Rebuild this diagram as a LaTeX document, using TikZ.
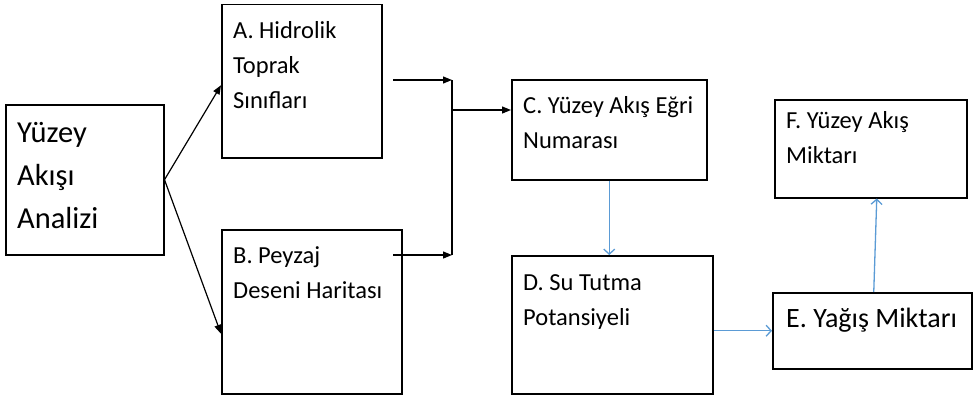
\documentclass[tikz,border=0pt]{standalone}
\usepackage{fontspec}
\setmainfont{Carlito}
\usetikzlibrary{arrows.meta,positioning,calc}
\definecolor{C_link}{RGB}{91,155,213}

\begin{document}
\begin{tikzpicture}[
    x=1pt, y=-1pt,
    blk/.style={draw, rectangle, anchor=north west, inner sep=0pt, line width=1.5pt},
    lbl/.style={anchor=north west, align=left, inner sep=0pt, xshift=12pt, yshift=-17pt,
                font=\fontsize{24.5}{35}\selectfont},
    lblbig/.style={lbl, font=\fontsize{30.5}{43}\selectfont},
    flowblk/.style={-{Triangle[length=9pt,width=7pt]}, line width=1.2pt},
    flowblue/.style={-{Straight Barb[length=5pt,width=11pt]}, draw=C_link, line width=1.3pt},
]
\useasboundingbox (0,0) rectangle (976,396);

% Boxes (coordinates in pixels of the original, y downwards)
\node[blk, minimum width=158pt, minimum height=150pt,
      label={[lblbig, yshift=-1pt]north west:{Yüzey\\Akışı\\Analizi}}] (yuzey) at (5,104) {};
\node[blk, minimum width=160pt, minimum height=153pt,
      label={[lbl]north west:{A. Hidrolik\\Toprak\\Sınıfları}}] (hidrolik) at (221,4) {};
\node[blk, minimum width=180pt, minimum height=164pt,
      label={[lbl]north west:{B. Peyzaj\\Deseni Haritası}}] (peyzaj) at (221,229) {};
\node[blk, minimum width=195pt, minimum height=100pt,
      label={[lbl]north west:{C. Yüzey Akış Eğri\\Numarası}}] (egri) at (511,79) {};
\node[blk, minimum width=201pt, minimum height=138pt,
      label={[lbl, yshift=-2pt]north west:{D. Su Tutma\\Potansiyeli}}] (tutma) at (511,255) {};
\node[blk, minimum width=199pt, minimum height=76pt,
      label={[lbl, font=\fontsize{28}{40}\selectfont, xshift=2pt, yshift=1pt]north west:{E. Yağış Miktarı}}] (yagis) at (772,292) {};
\node[blk, minimum width=192pt, minimum height=98pt,
      label={[lbl, yshift=5pt]north west:{F. Yüzey Akış\\Miktarı}}] (miktar) at (774,99) {};

% Junction points
\coordinate (tapA) at (393,80);
\coordinate (tapB) at (393,255);
\coordinate (joinA) at (452,80);
\coordinate (joinB) at (452,255);
\coordinate (joinC) at (452,110);

% Black connectors
\draw[flowblk] (yuzey.east) -- ([yshift=-4pt]hidrolik.west);
\draw[flowblk] (yuzey.east) -- ([yshift=-22pt]peyzaj.west);
\draw[flowblk] (tapA) -- (joinA);
\draw[flowblk] (tapB) -- (joinB);
\draw[line width=1.2pt] (joinA) -- (joinB);
\draw[flowblk] (joinC) -- (joinC -| egri.west);

% Blue connectors
\draw[flowblue] (egri.south) -- (egri.south |- tutma.north);
\draw[flowblue] (tutma.east |- yagis.west) -- (yagis.west);
\draw[flowblue] ([xshift=1.5pt]yagis.north) -- ([xshift=6pt]miktar.south);
\end{tikzpicture}
\end{document}
